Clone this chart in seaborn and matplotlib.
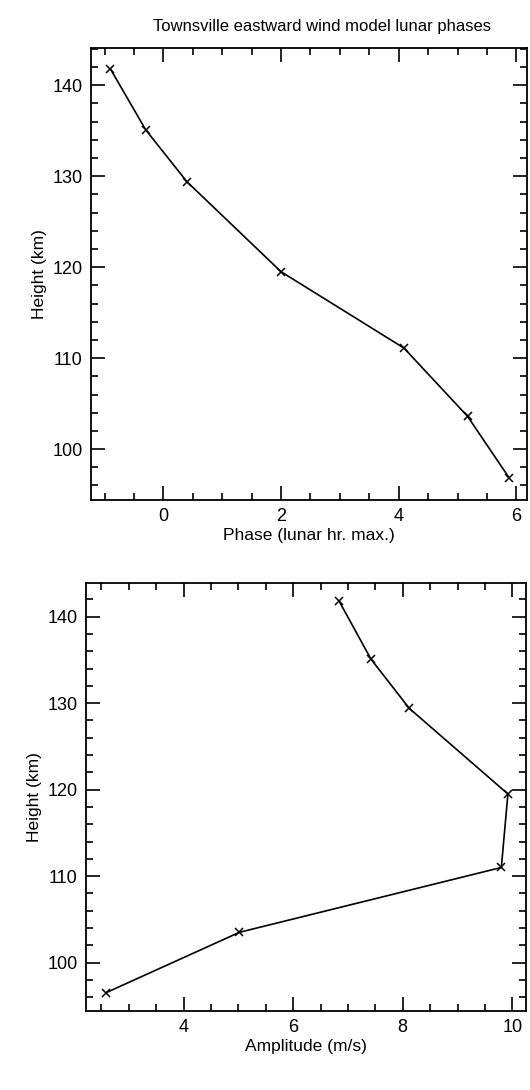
import numpy as np
import pandas as pd
import seaborn as sns
import matplotlib.pyplot as plt
from matplotlib.ticker import MultipleLocator

# values
height = [141.8, 135.1, 129.4, 119.5, 111.1, 103.6, 96.8]
phase = [-0.90, -0.30, 0.40, 2.00, 4.09, 5.17, 5.88]
height_amp = [141.8, 135.1, 129.4, 119.5, 111.0, 103.5, 96.5]
amplitude = [6.84, 7.42, 8.12, 9.92, 9.80, 5.02, 2.58]

sns.set_style("ticks")
plt.rcParams['font.family'] = ['Liberation Sans', 'DejaVu Sans']
plt.rcParams['text.color'] = 'black'
plt.rcParams['axes.labelcolor'] = 'black'
plt.rcParams['xtick.color'] = 'black'
plt.rcParams['ytick.color'] = 'black'
plt.rcParams['axes.edgecolor'] = 'black'

fig = plt.figure(figsize=(5.3, 10.9), dpi=100)
W, H = 530, 1090
ax1 = fig.add_axes([91 / W, 1 - 500 / H, 436 / W, 452 / H])
ax2 = fig.add_axes([86 / W, 1 - 1011 / H, 440 / W, 428 / H])

top = pd.DataFrame({"x": phase, "y": height})
bot = pd.DataFrame({"x": amplitude, "y": height_amp})

for ax, df in [(ax1, top), (ax2, bot)]:
    sns.lineplot(data=df, x="x", y="y", sort=False, color="black", lw=1.2,
                 marker="x", markersize=6, markeredgecolor="black", mew=1.1, ax=ax)
    ax.yaxis.set_major_locator(MultipleLocator(10))
    ax.yaxis.set_minor_locator(MultipleLocator(2))
    ax.xaxis.set_major_locator(MultipleLocator(2))
    ax.xaxis.set_minor_locator(MultipleLocator(0.5))
    ax.tick_params(which="both", direction="in", top=True, right=True, labelsize=13, width=1.2)
    ax.tick_params(which="major", length=10, pad=6)
    ax.tick_params(which="minor", length=5)
    for s in ax.spines.values():
        s.set_linewidth(1.3)
    ax.set_ylabel("Height (km)", fontsize=12.5)

ax1.set_xlim(-1.23, 6.18)
ax1.set_ylim(94.4, 144.1)
ax1.set_xlabel("Phase (lunar hr. max.)", fontsize=12.5, labelpad=2)
ax1.set_title("Townsville eastward wind model lunar phases", fontsize=12, pad=12, x=0.53)

ax2.set_xlim(2.22, 10.25)
ax2.set_ylim(94.4, 143.9)
ax2.set_xlabel("Amplitude (m/s)", fontsize=12.5, labelpad=2)

fig.savefig("out.png", dpi=100)
